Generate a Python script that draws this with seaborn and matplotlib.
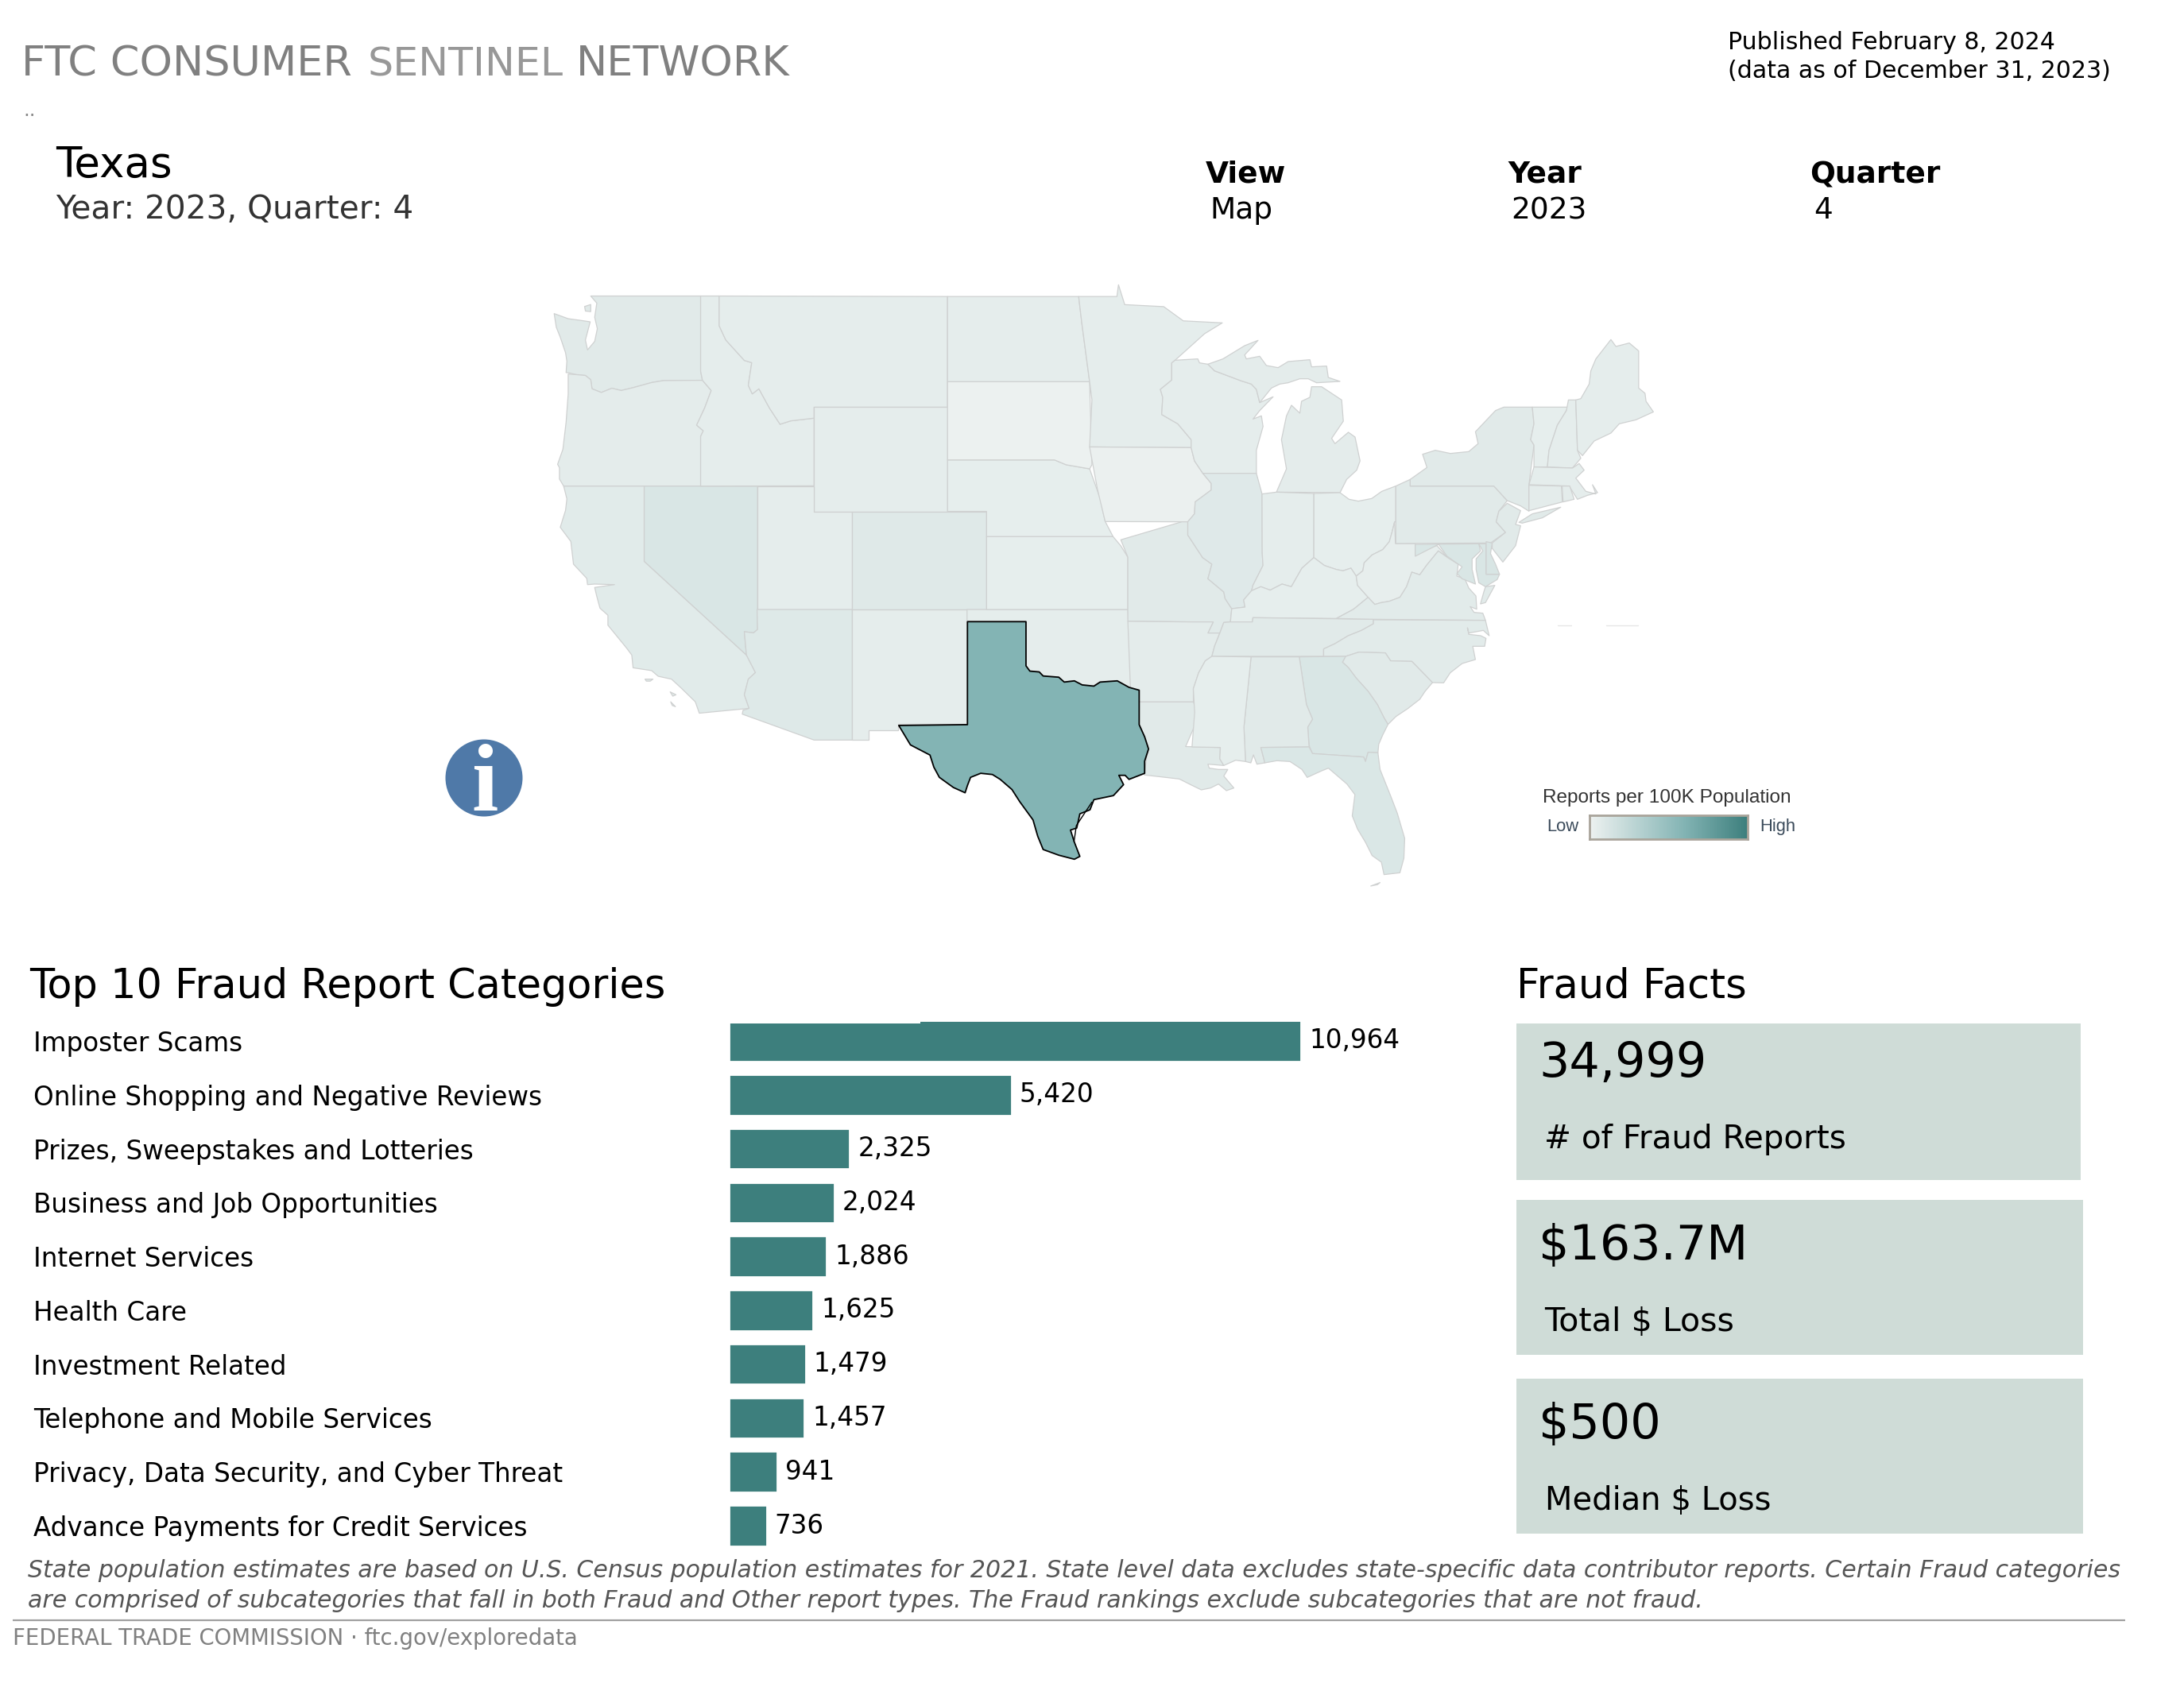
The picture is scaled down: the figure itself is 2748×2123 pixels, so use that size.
import numpy as np
import pandas as pd
import seaborn as sns
import matplotlib
matplotlib.use("Agg")
import matplotlib.pyplot as plt
from matplotlib.collections import PolyCollection
from matplotlib.colors import LinearSegmentedColormap, Normalize
from matplotlib.patches import Rectangle, Circle

# ---------- data ----------
categories = ["Imposter Scams", "Online Shopping and Negative Reviews",
              "Prizes, Sweepstakes and Lotteries", "Business and Job Opportunities",
              "Internet Services", "Health Care", "Investment Related",
              "Telephone and Mobile Services", "Privacy, Data Security, and Cyber Threat",
              "Advance Payments for Credit Services"]
reports = [10964, 5420, 2325, 2024, 1886, 1625, 1479, 1457, 941, 736]

fact_values = ["34,999", "$163.7M", "$500"]
fact_labels = ["# of Fraud Reports", "Total $ Loss", "Median $ Loss"]

# estimated reports per 100K population (read from shading)
rate = {"WA": 15, "OR": 11, "CA": 14, "NV": 23, "ID": 10, "MT": 10, "WY": 10, "UT": 10, "AZ": 18,
        "CO": 17, "NM": 10, "OK": 10, "KS": 9, "NE": 9, "SD": 3, "ND": 10, "MN": 10, "IA": 4,
        "MO": 15, "AR": 11, "LA": 15, "WI": 10, "IL": 16, "MI": 12, "MIU": 12, "IN": 10, "OH": 9,
        "KY": 9, "TN": 15, "WV": 8, "VA": 13, "NC": 13, "SC": 15, "GA": 23, "AL": 15, "MS": 9,
        "FL": 22, "PA": 15, "NY": 15, "NJ": 15, "MDW": 23, "MDE": 23, "DE": 25, "VAE": 13, "CT": 12,
        "RI": 12, "MA": 10, "VT": 9, "NH": 10, "ME": 10, "LI": 15, "CAI1": 14, "CAI2": 14, "CAI3": 14,
        "WAI": 15, "FLK": 22}
TEXAS_RATE = 117

# outlines, in three tracing grids that convert to the map's units
def A(pts):
    return [(855.1 + x * .4285, 156.8 + y * .6533) for x, y in pts]
def B(pts):
    return [(916.2 + x * .3393, 588 + y * .6533) for x, y in pts]
def C(pts):
    return [(81.4 + x * .3393, 39.2 + y * .7) for x, y in pts]

outlines = {
 "WA": C([(190,35),(605,35),(605,300),(612,332),(465,333),(420,340),(350,358),(305,368),(270,360),(230,375),(195,362),(190,330),(170,315),(135,312),(105,305),(97,305),(100,265),(95,235),(75,180),(60,145),(52,97),(105,115),(160,122),(188,126),(170,190),(178,225),(205,195),(215,150),(205,110),(213,60)]),
 "WAI": C([(167,72),(190,65),(190,90),(170,88)]),
 "OR": C([(105,310),(135,312),(170,315),(190,330),(195,362),(230,375),(270,360),(305,368),(350,358),(420,340),(465,333),(612,332),(645,368),(620,430),(590,490),(615,510),(605,530),(605,705),(88,705),(72,680),(72,640),(65,628),(85,575),(97,480),(105,380)]),
 "CA": C([(88,705),(392,705),(392,970),(778,1300),(812,1362),(785,1385),(770,1440),(788,1488),(600,1505),(585,1465),(530,1415),(495,1385),(445,1375),(420,1355),(350,1345),(345,1300),(325,1275),(255,1195),(255,1160),(225,1135),(212,1090),(205,1062),(280,1052),(205,1050),(178,1052),(175,1030),(125,980),(115,900),(75,850),(95,790),(100,750)]),
 "CAI1": C([(395,1385),(425,1385),(415,1392),(400,1392)]),
 "CAI2": C([(490,1430),(512,1440),(500,1445)]),
 "CAI3": C([(492,1465),(510,1482),(498,1478)]),
 "NV": C([(392,705),(820,705),(820,1210),(805,1222),(770,1218),(778,1300),(392,970)]),
 "ID": C([(605,35),(675,35),(675,140),(700,190),(770,262),(798,270),(785,350),(800,380),(825,362),(865,430),(905,487),(945,475)]) + [(432,365),(432,532)] + C([(605,705),(605,530),(615,510),(590,490),(620,430),(645,368),(612,332),(605,300)]),
 "MT": C([(675,35)]) + [(603,65),(603,338),(432,338),(432,365)] + C([(945,475),(905,487),(865,430),(825,362),(800,380),(785,350),(798,270),(770,262),(700,190),(675,140)]),
 "WY": [(432,338),(603,338),(603,595),(432,595)],
 "UT": [(359,533),(432,533),(432,595),(481,595),(481,837),(359,837)],
 "AZ": [(359,837),(481,837),(481,1159),(432,1159),(340,1095)] + C([(765,1495),(788,1488),(770,1440),(785,1385),(812,1362),(778,1300),(770,1218),(805,1222),(820,1210)]),
 "CO": [(481,595),(653,595),(653,837),(481,837)],
 "NM": [(481,837),(628,837),(628,1120),(540,1120),(540,1135),(502,1135),(502,1159),(481,1159)],
 "OK": [(628,837),(834,837),(838,1035),(835,1028),(820,1012),(798,1015),(790,1025),(775,1022),(765,1012),(752,1015),(745,1003),(725,1000),(720,990),(708,988),(703,975),(703,866),(628,866)],
 "KS": [(653,657),(815,657),(825,680),(834,708),(834,837),(653,837)],
 "NE": [(603,468),(740,468),(755,480),(785,490),(798,560),(805,620),(815,657),(653,657),(653,595),(603,595)],
 "SD": [(603,275),(785,275),(788,480),(785,490),(755,480),(740,468),(603,468)],
 "ND": [(603,65),(771,65),(775,130),(785,275),(603,275)],
 "MN": [(771,65),(820,65),(822,36),(830,85),(880,90),(905,125),(955,130)] + A([(180,0),(92,100),(82,110),(82,175),(48,210),(55,240),(52,305),(100,340),(140,400),(140,430)]) + [(785,436),(788,320),(785,275),(775,130)],
 "IA": [(785,436)] + A([(140,430),(150,480),(175,527),(200,565),(200,590),(152,635),(150,680),(130,710),(112,710)]) + [(805,620),(795,540)],
 "MO": A([(112,710),(130,710),(130,760)]) + B([(40,185),(75,210),(60,265),(120,315),(125,340),(150,378),(145,428),(120,430),(105,470),(60,470),(80,428),(0,428)]) + [(834,866),(834,708),(825,665)],
 "AR": B([(0,428),(80,428),(60,470),(105,470),(85,520),(75,558),(50,575),(25,620),(5,680)]) + [(918,1065),(838,1065),(834,866)],
 "LA": [(848,1065),(918,1065),(925,1100),(908,1175)] + B([(107,902),(105,945),(120,970),(60,965),(65,980),(100,985),(135,985),(120,1010),(158,1055),(130,1065),(100,1040),(70,1055),(35,1062),(0,1045)]) + [(900,1255),(855,1245),(860,1175),(848,1120)],
 "WI": A([(92,100),(160,95),(165,110),(190,115),(210,140),(290,178),(320,190),(335,210),(345,260),(385,238),(345,290),(325,322),(350,310),(355,350),(335,440),(335,527),(175,527),(150,480),(140,430),(140,400),(100,340),(52,305),(55,240),(48,210),(82,175),(82,110)]),
 "MIU": A([(190,115),(235,95),(300,45),(340,25),(300,80),(305,95),(345,85),(365,120),(400,128),(430,105),(495,98),(500,125),(545,122),(550,165),(585,180),(515,185),(490,170),(465,170),(430,185),(405,190),(380,205),(345,260),(335,210),(320,190),(290,178),(210,140)]),
 "MI": A([(500,200),(530,200),(590,250),(595,330),(560,395),(570,415),(610,372),(630,390),(645,480),(635,515),(605,550),(585,600),(395,598),(425,510),(410,400),(425,310),(440,270),(465,300),(470,255),(495,240)]),
 "IL": A([(175,527),(335,527),(352,605)]) + B([(265,165),(268,215),(230,290),(225,310),(195,345),(200,372),(150,378),(125,340),(120,315),(60,265),(75,210),(40,185)]) + A([(130,760),(130,710),(150,680),(152,635),(200,590),(200,565)]),
 "IN": A([(352,605),(395,598),(507,603)]) + B([(460,185),(415,225),(375,295),(340,285),(295,308),(260,295),(225,310),(230,290),(268,215),(265,165)]),
 "OH": A([(507,603),(585,600),(612,625),(640,632),(680,622),(710,595),(752,575),(752,710)]) + B([(765,50),(755,90),(745,125),(720,155),(680,175),(650,205),(645,235),(620,255),(600,225),(570,235),(545,230),(500,215),(460,185)]),
 "KY": B([(150,378),(200,372),(195,345),(225,310),(260,295),(295,308),(340,285),(375,295),(415,225),(460,185),(500,215),(545,230),(570,235),(600,225),(620,255),(625,290),(665,335),(610,380),(545,415),(230,412),(228,428),(145,428)]),
 "TN": B([(145,428),(228,428),(230,412),(685,418),(685,435),(640,460),(590,480),(540,510),(497,530),(497,558),(75,558),(85,520),(105,470),(120,430)]),
 "WV": B([(620,255),(645,235),(650,205),(680,175),(720,155),(745,125),(755,90),(765,50),(768,132),(843,132),(843,178),(885,150),(925,140),(965,185),(930,160),(885,215),(860,250),(830,240),(810,295),(785,335),(745,350),(715,355),(690,362),(665,335),(625,290)]),
 "VA": B([(545,415),(610,380),(665,335),(690,362),(715,355),(745,350),(785,335),(810,295),(830,240),(860,250),(885,215),(930,160),(965,185),(1005,210),(1000,255),(1030,265),(1045,300),(1072,330),(1075,380),(1050,370),(1065,392),(1098,395),(1108,422),(685,418)]),
 "VAE": A([(1020,955),(1048,950),(1020,1015),(1005,1020),(1015,975)]),
 "NC": B([(685,420),(1108,422),(1122,480),(1100,460),(1045,470),(1040,450),(1045,475),(1090,480),(1110,490),(1105,520),(1060,520),(1070,570),(1020,585),(975,620),(950,658),(908,657),(830,577),(750,575),(730,545),(630,542),(580,558),(497,558),(497,530),(540,510),(590,480),(640,460),(685,435)]),
 "SC": B([(568,580),(580,558),(630,542),(730,545),(750,575),(830,577),(908,657),(880,690),(860,720),(815,755),(770,785),(740,815),(725,790),(700,740),(665,690),(620,640),(590,600)]),
 "GA": B([(405,560),(580,558),(568,580),(590,600),(620,640),(665,690),(700,740),(725,790),(740,815),(720,855),(705,890),(702,922),(665,920),(655,955),(648,938),(455,925),(442,895),(437,825),(455,795),(432,740)]),
 "AL": B([(223,560),(405,560),(432,740),(455,795),(437,825),(442,900),(260,902),(275,960),(245,965),(232,930),(222,960),(202,955),(196,825)]),
 "MS": B([(75,558),(223,560),(196,825),(202,955),(165,950),(120,970),(105,945),(107,902),(0,900),(10,770),(5,680),(25,620),(50,575)]),
 "FL": B([(260,902),(442,900),(455,925),(648,938),(655,955),(665,920),(702,922),(710,985),(750,1085),(775,1150),(803,1245),(800,1320),(785,1375),(725,1382),(715,1335),(680,1310),(655,1260),(625,1210),(605,1160),(615,1080),(585,1040),(550,1010),(515,980),(490,990),(435,1015),(415,985),(370,955),(320,952),(275,960)]),
 "FLK": B([(675,1425),(710,1412),(700,1420)]),
 "PA": A([(752,575),(795,550),(795,575),(1045,575),(1085,630),(1060,670),(1052,710),(1080,750),(1035,790),(752,792)]),
 "NY": A([(795,550),(845,505),(832,455),(870,440),(915,452),(970,445),(998,415),(990,370),(1050,290),(1075,277),(1160,277),(1165,340),(1155,400),(1165,420),(1150,570),(1150,670),(1125,650),(1085,630),(1045,575),(795,575)]),
 "LI": A([(1120,712),(1160,680),(1245,655),(1190,695),(1130,715)]),
 "NJ": A([(1085,640),(1125,668),(1110,720),(1125,725),(1110,800),(1072,862),(1040,810),(1040,790),(1080,750),(1052,710),(1060,670)]),
 "VT": A([(1160,277),(1265,277),(1262,290),(1235,345),(1210,440),(1205,503),(1165,503),(1165,420),(1155,400),(1165,340)]),
 "NH": A([(1268,250),(1290,250),(1295,440),(1305,470),(1280,507),(1205,503),(1210,440),(1235,345),(1262,290)]),
 "ME": A([(1290,250),(1305,245),(1330,190),(1335,140),(1350,95),(1395,22),(1410,48),(1450,35),(1478,65),(1478,205),(1497,225),(1500,255),(1522,295),(1470,325),(1420,340),(1395,375),(1345,405),(1310,460),(1295,440)]),
 "MA": A([(1165,503),(1280,507),(1300,490),(1315,515),(1290,545),(1320,595),(1350,605),(1340,570),(1355,600),(1325,610),(1295,625),(1270,575),(1150,570)]),
 "CT": A([(1150,572),(1247,575),(1250,635),(1150,668)]),
 "RI": A([(1249,575),(1272,575),(1285,625),(1252,635)]),
 "MDW": A([(810,795),(1000,793),(1005,820),(980,850),(980,890),(990,945),(950,925),(935,905),(950,880),(905,840),(880,795),(810,840)]),
 "MDE": A([(1000,793),(1022,793),(1022,908),(1062,908),(1055,928),(1020,955),(1000,940),(992,890),(992,850),(1012,820)]),
 "DE": A([(1022,785),(1040,790),(1035,830),(1050,870),(1062,908),(1022,908)]),
}
texas_outline = [(628,866),(703,866),(703,975),(708,988),(720,990),(725,1000),(745,1003),(752,1015),(765,1012),(775,1022),(790,1025),(798,1015),(820,1012),(835,1028),(848,1035),(848,1120),(855,1150),(860,1180),(855,1210),(855,1240),(835,1255),(830,1245),(822,1245),(828,1268),(815,1295),(790,1305),(785,1330),(772,1340),(768,1375),(760,1380),(765,1410),(772,1445),(765,1452),(745,1442),(725,1428),(718,1395),(712,1355),(695,1310),(685,1280),(670,1255),(660,1243),(645,1240),(632,1250),(628,1270),(625,1288),(610,1275),(592,1250),(585,1225),(580,1195),(570,1185),(555,1170),(540,1122),(628,1120)]

# ---------- figure ----------
sns.set_theme(style="white")
plt.rcParams["font.family"] = ["DejaVu Sans"]
W, H = 2748, 2123
DPI = 200
fig = plt.figure(figsize=(W / DPI, H / DPI), dpi=DPI, facecolor="white")
PT = 72 / DPI

def px_axes(x0, y0, x1, y1, **kw):
    return fig.add_axes([x0 / W, 1 - y1 / H, (x1 - x0) / W, (y1 - y0) / H], **kw)

# map
norm = Normalize(0, 195)
cmap = LinearSegmentedColormap.from_list("rate", [(0, "#eef2f1"), (117 / 195, "#83b4b4"), (1, "#3d7f7d")], N=256)
ax_map = px_axes(600, 340, 2140, 1140)
ax_map.set_xlim(0, 1568); ax_map.set_ylim(1568, 0); ax_map.axis("off")
names = list(outlines)
states = PolyCollection([outlines[n] for n in names], array=np.array([rate[n] for n in names], float),
                        cmap=cmap, norm=norm, edgecolors="#cfd1d1", linewidths=0.45)
ax_map.add_collection(states)
texas = PolyCollection([texas_outline], array=np.array([TEXAS_RATE], float), cmap=cmap, norm=norm,
                       edgecolors="black", linewidths=0.65, zorder=5)
ax_map.add_collection(texas)
ax_map.plot([765, 768, 788], [1410, 1370, 1312], color="black", lw=0.5, zorder=6)

# legend gradient
ax_leg = px_axes(2000, 1026, 2199, 1056)
ax_leg.imshow(np.linspace(0, 195, 256)[None, :], cmap=cmap, norm=norm, aspect="auto")
ax_leg.set_xticks([]); ax_leg.set_yticks([])
for s in ax_leg.spines.values():
    s.set_color("#a9a49a"); s.set_linewidth(1.0); s.set_visible(True)

# bars
X0, X1 = 916.5, 1637
PX_PER_UNIT = (X1 - X0) / 10964
STEP = (1920 - 1310) / 9
ax_bar = px_axes(X0, 1310 - STEP / 2, 1900, 1920 + STEP / 2)
df = pd.DataFrame({"category": categories, "reports": reports})
sns.barplot(data=df, y="category", x="reports", order=categories, color="#3d7f7d", saturation=1,
            width=0.76, ax=ax_bar)
ax_bar.set_xlim(0, (1900 - X0) / PX_PER_UNIT)
ax_bar.set_ylim(9.5, -0.5)
ax_bar.set_xlabel(""); ax_bar.set_ylabel(""); ax_bar.set_xticks([])
sns.despine(ax=ax_bar, left=True, bottom=True)
ax_bar.tick_params(axis="y", length=0, pad=(X0 - 42) * PT, labelsize=32.6 * PT, labelcolor="black")
for lab in ax_bar.get_yticklabels():
    lab.set_ha("left")
ax_bar.bar_label(ax_bar.containers[0], labels=[f"{v:,}" for v in reports], padding=10 * PT,
                 fontsize=32.6 * PT, color="black")

# overlay for text and panels
ov = fig.add_axes([0, 0, 1, 1], facecolor="none")
ov.set_xlim(0, W); ov.set_ylim(H, 0); ov.axis("off")

def T(x, y, s, px, color="black", **kw):
    ov.text(x, y, s, fontsize=px * PT, color=color, va="baseline", ha="left", **kw)

T(27, 95, "FTC CONSUMER", 52.5, "#808080")
T(463, 95, "SENTINEL", 50.5, "#989898")
T(725, 95, "NETWORK", 52.5, "#808080")
T(29, 146, "..", 24, "#888888")
T(70, 223, "Texas", 53, "black")
T(70, 275, "Year: 2023, Quarter: 4", 40.6, "#333333")
T(2174, 62, "Published February 8, 2024", 30, "black")
T(2174, 98, "(data as of December 31, 2023)", 30, "black")
for x0, x1, head, val in [(1517, 1522, "View", "Map"), (1897, 1901, "Year", "2023"), (2277, 2282, "Quarter", "4")]:
    T(x0, 230, head, 37.5, "black", fontweight="bold")
    T(x1, 275, val, 37.5, "black")

T(37, 1256, "Top 10 Fraud Report Categories", 50.9, "black")
T(1908, 1256, "Fraud Facts", 51, "black")

# first-bar notch
ov.add_patch(Rectangle((915, 1283), 1158 - 915, 5, fc="white", ec="none"))

# fact cards
card_boxes = [(1908, 1288, 2618, 1485), (1908, 1510, 2621, 1705), (1908, 1735, 2621, 1930)]
value_base = [1355, 1585, 1810]
label_pos = [(1943, 1445), (1943, 1675), (1944, 1900)]
label_px = [40.5, 41.2, 40]
for box, val, lab, vb, lp, lpx in zip(card_boxes, fact_values, fact_labels, value_base, label_pos, label_px):
    ov.add_patch(Rectangle((box[0], box[1]), box[2] - box[0], box[3] - box[1], fc="#cfdcd7", ec="none"))
    T(1936, vb, val, 60.4, "black")
    T(lp[0], lp[1], lab, lpx, "black")

# info icon
ov.add_patch(Circle((609, 979), 48.5, fc="#4f79a8", ec="none"))
ov.text(610, 1020, "i", fontsize=120 * PT, color="white", family="Liberation Serif", fontweight="bold",
        ha="center", va="baseline")

# legend text
ov.text(1941, 1010, "Reports per 100K Population", fontsize=24.4 * PT, family="Liberation Sans", color="#333333")
ov.text(1946, 1046, "Low", fontsize=22 * PT, family="Liberation Sans", color="#3a4a5a")
ov.text(2214, 1046, "High", fontsize=22 * PT, family="Liberation Sans", color="#3a4a5a")
ov.plot([1960, 1977], [787, 787], color="#e6e6e6", lw=0.5)
ov.plot([2021, 2061], [787, 787], color="#e6e6e6", lw=0.5)

# footer
T(35, 1985, "State population estimates are based on U.S. Census population estimates for 2021. State level data excludes state-specific data contributor reports. Certain Fraud categories",
  29.95, "#555555", fontstyle="italic")
T(35, 2023, "are comprised of subcategories that fall in both Fraud and Other report types. The Fraud rankings exclude subcategories that are not fraud.",
  29.95, "#555555", fontstyle="italic")
ov.plot([16, 2674], [2039, 2039], color="#a0a0a0", lw=2.2 * PT, solid_capstyle="butt")
T(16, 2070, "FEDERAL TRADE COMMISSION · ftc.gov/exploredata", 27.6, "#808080")

fig.savefig("out.png", dpi=DPI, facecolor="white")
